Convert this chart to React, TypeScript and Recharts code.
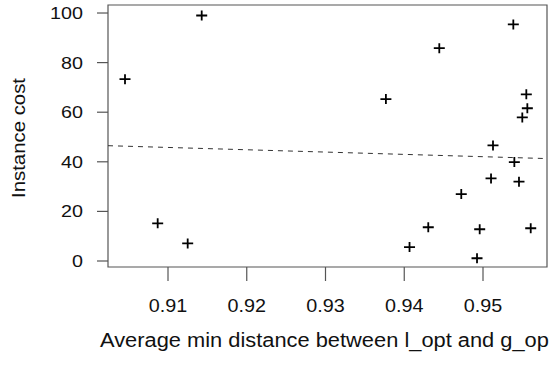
import React from 'react';
import { ScatterChart, Scatter, XAxis, YAxis, ReferenceArea, ReferenceLine } from 'recharts';

const xValues = [0.90454, 0.91428, 0.90869, 0.9125, 0.95385, 0.94445, 0.93767, 0.9555, 0.95563, 0.95499, 0.95127, 0.95398, 0.95102, 0.95457, 0.94724, 0.94305, 0.94958, 0.95606, 0.94067, 0.94924];
const yValues = [73.3, 99.0, 15.2, 7.1, 95.4, 85.8, 65.3, 67.2, 61.6, 57.9, 46.6, 39.9, 33.3, 32.0, 27.0, 13.6, 12.8, 13.2, 5.6, 1.1];
const xTicks = [0.91, 0.92, 0.93, 0.94, 0.95];
const yTicks = [0, 20, 40, 60, 80, 100];
const xDomain = [0.902381, 0.958127];
const yDomain = [-2.42, 103.23];
const fitX = [0.902381, 0.958127];
const fitY = [46.5, 41.3];
const xTitle = 'Average min distance between l_opt and g_opt';
const yTitle = 'Instance cost';

const points = xValues.map((x, i) => ({ x, y: yValues[i] }));

const FONT = '"Liberation Sans", Arial, sans-serif';

const Plus = (props: any) => {
  const { cx, cy } = props;
  if (cx == null || cy == null) return null;
  return (
    <path d={`M${cx - 5.5},${cy}h11M${cx},${cy - 5}v10`} stroke="#000" strokeWidth={1.8} fill="none" />
  );
};

const XTick = (props: any) => {
  const { x, y, payload } = props;
  return (
    <g transform={`translate(${x},${y})`}>
      <text transform="scale(1.04,1)" textAnchor="middle" dy="0.71em" fill="#111" fontSize={19} fontFamily={FONT}>
        {Number(payload.value).toFixed(2)}
      </text>
    </g>
  );
};

const YTick = (props: any) => {
  const { x, y, payload } = props;
  return (
    <g transform={`translate(${x},${y})`}>
      <text transform="scale(1.16,1)" textAnchor="end" dy="0.355em" fill="#111" fontSize={17} fontFamily={FONT}>
        {payload.value}
      </text>
    </g>
  );
};

const XTitle = (props: any) => {
  const vb = props.viewBox || { x: 108, y: 267, width: 439, height: 107 };
  return (
    <text x={vb.x + vb.width / 2} y={vb.y + 80} textAnchor="middle" fill="#111" fontSize={19.5} fontFamily={FONT}
      textLength={455} lengthAdjust="spacingAndGlyphs">
      {xTitle}
    </text>
  );
};

const YTitle = (props: any) => {
  const vb = props.viewBox || { x: 0, y: 5, width: 108, height: 262 };
  const cx = vb.x + 25;
  const cy = vb.y + vb.height / 2 + 2;
  return (
    <text transform={`translate(${cx},${cy}) rotate(-90)`} textAnchor="middle" fill="#111" fontSize={18} fontFamily={FONT}
      textLength={120} lengthAdjust="spacingAndGlyphs">
      {yTitle}
    </text>
  );
};

export default function App() {
  return (
    <div style={{ position: 'absolute', left: 0, top: 0, width: 549, height: 374, background: '#fff' }}>
      <ScatterChart width={549} height={374} margin={{ top: 5, right: 2, left: 0, bottom: 0 }}>
        <XAxis
          type="number"
          dataKey="x"
          domain={xDomain}
          ticks={xTicks}
          allowDataOverflow
          height={107}
          tickSize={14}
          tickMargin={18}
          axisLine={false}
          tickLine={{ stroke: '#555', strokeWidth: 1.2 }}
          tick={<XTick />}
          label={{ content: (p: any) => <XTitle {...p} /> }}
        />
        <YAxis
          type="number"
          dataKey="y"
          domain={yDomain}
          ticks={yTicks}
          allowDataOverflow
          width={108}
          tickSize={11}
          tickMargin={14}
          axisLine={false}
          tickLine={{ stroke: '#555', strokeWidth: 1.2 }}
          tick={<YTick />}
          label={{ content: (p: any) => <YTitle {...p} /> }}
        />
        <ReferenceArea x1={xDomain[0]} x2={xDomain[1]} y1={yDomain[0]} y2={yDomain[1]} fill="none" fillOpacity={0} stroke="#555" strokeWidth={1.2} ifOverflow="visible" />
        <ReferenceLine
          segment={[{ x: fitX[0], y: fitY[0] }, { x: fitX[1], y: fitY[1] }]}
          stroke="#333"
          strokeWidth={1}
          strokeDasharray="5 5"
          ifOverflow="visible"
        />
        <Scatter data={points} shape={<Plus />} isAnimationActive={false} />
      </ScatterChart>
    </div>
  );
}
